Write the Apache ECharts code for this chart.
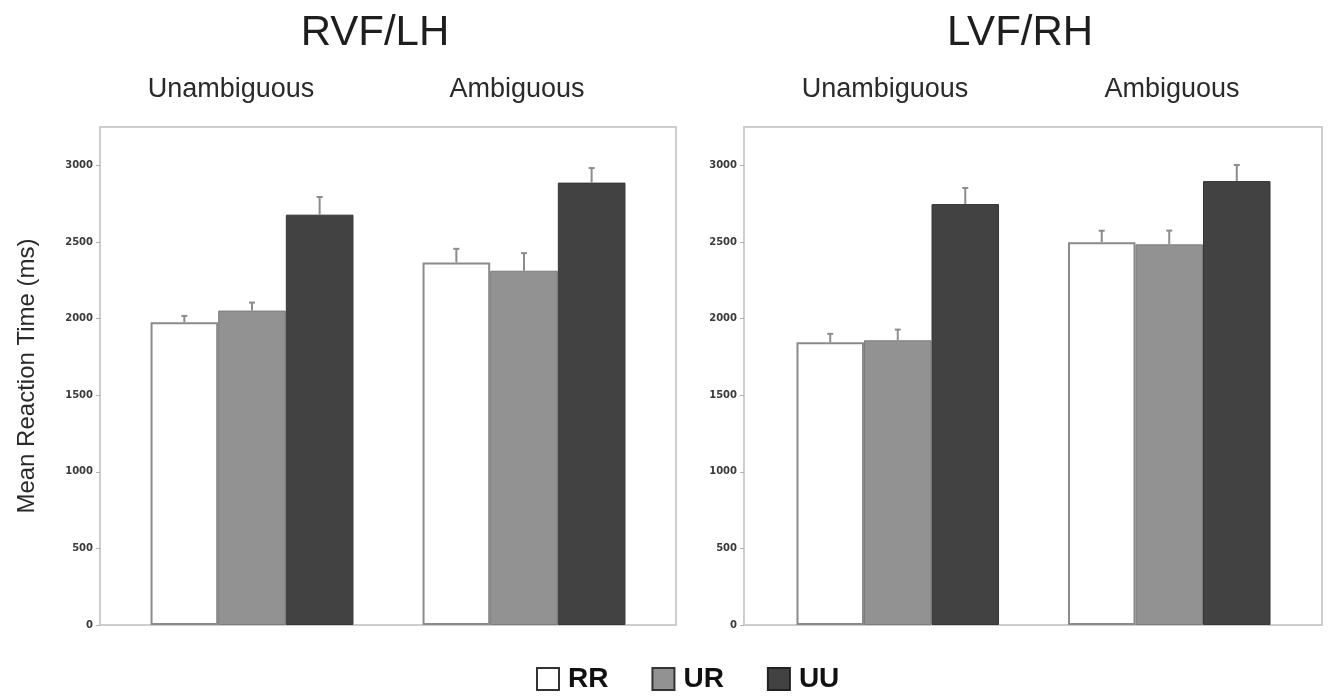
<!DOCTYPE html>
<html>
<head>
<meta charset="utf-8">
<script src="https://cdn.jsdelivr.net/npm/echarts@6/dist/echarts.min.js"></script>
<style>
  html, body { margin: 0; padding: 0; background: #fff; }
  #main { width: 1329px; height: 698px; }
</style>
</head>
<body>
<div id="main"></div>
<script>
// data
var conditions = ['Unambiguous', 'Ambiguous'];
var pairNames = ['RR', 'UR', 'UU'];

var rvfRR = [1975, 2365];
var rvfUR = [2052, 2312];
var rvfUU = [2678, 2887];
var rvfRRErr = [42, 90];
var rvfURErr = [52, 115];
var rvfUUErr = [115, 95];

var lvfRR = [1845, 2498];
var lvfUR = [1858, 2484];
var lvfUU = [2747, 2897];
var lvfRRErr = [55, 75];
var lvfURErr = [70, 90];
var lvfUUErr = [105, 105];

var yMin = 0, yMax = 3250, yStep = 500;

var CAT_GAP = 0.254;
var font = '"Liberation Sans", Arial, sans-serif';

var barStyles = [
    { color: '#ffffff', borderColor: '#8a8a8a', borderWidth: 2 },
    { color: '#929292', borderColor: '#7c7c7c', borderWidth: 1 },
    { color: '#424242', borderColor: '#363636', borderWidth: 1 }
];

function errRows(means, errs) {
    var rows = [];
    for (var s = 0; s < means.length; s++) {
        for (var c = 0; c < means[s].length; c++) {
            rows.push([c, s, means[s][c], errs[s][c]]);
        }
    }
    return rows;
}

function renderErr(params, api) {
    var cat = api.value(0), s = api.value(1);
    var mean = api.value(2), err = api.value(3);
    var base = api.coord([cat, mean]);
    var top = api.coord([cat, mean + err]);
    var barW = api.size([1, 0])[0] * (1 - CAT_GAP) / 3;
    var x = base[0] + (s - 1) * barW;
    var st = { stroke: '#8c8c8c', lineWidth: 2 };
    return {
        type: 'group',
        children: [
            { type: 'line', shape: { x1: x, y1: base[1], x2: x, y2: top[1] }, style: st },
            { type: 'line', shape: { x1: x - 3, y1: top[1], x2: x + 3, y2: top[1] }, style: st }
        ]
    };
}

function valueAxis(gridIndex, offset, withName) {
    return {
        gridIndex: gridIndex,
        type: 'value',
        min: yMin,
        max: yMax,
        interval: yStep,
        offset: offset,
        name: withName ? 'Mean Reaction Time (ms)' : '',
        nameLocation: 'middle',
        nameGap: 61,
        nameTextStyle: { fontFamily: font, fontSize: 24, color: '#2a2a2a' },
        axisLine: { show: false },
        axisTick: { show: true, length: 4, lineStyle: { color: '#b0b0b0' } },
        splitLine: { show: false },
        axisLabel: {
            showMaxLabel: false,
            margin: 7,
            formatter: function (v) { return String(v); },
            fontFamily: '"DejaVu Sans", sans-serif',
            fontWeight: 'bold',
            fontSize: 10,
            color: '#3a3a3a'
        }
    };
}

function catAxis(gridIndex) {
    return {
        gridIndex: gridIndex,
        type: 'category',
        data: conditions,
        axisLine: { show: false },
        axisTick: { show: false },
        axisLabel: { show: false }
    };
}

function barSeries(axisIndex, values) {
    return values.map(function (v, i) {
        return {
            name: pairNames[i],
            type: 'bar',
            xAxisIndex: axisIndex,
            yAxisIndex: axisIndex,
            data: v,
            barGap: '0%',
            barCategoryGap: (CAT_GAP * 100) + '%',
            itemStyle: barStyles[i],
            emphasis: { disabled: true }
        };
    });
}

var myChart = echarts.init(document.getElementById('main'));

var option = {
    backgroundColor: '#fff',
    animation: false,
    grid: [
        { left: 100, top: 127, width: 576, height: 498, show: true, borderColor: '#cdcdcd', borderWidth: 2, backgroundColor: 'transparent' },
        { left: 116, top: 127, width: 544, height: 498 },
        { left: 744, top: 127, width: 578, height: 498, show: true, borderColor: '#cdcdcd', borderWidth: 2, backgroundColor: 'transparent' },
        { left: 762, top: 127, width: 543, height: 498 }
    ],
    xAxis: [
        { gridIndex: 0, type: 'value', show: false },
        catAxis(1),
        { gridIndex: 2, type: 'value', show: false },
        catAxis(3)
    ],
    yAxis: [
        { gridIndex: 0, type: 'value', show: false },
        valueAxis(1, 16, true),
        { gridIndex: 2, type: 'value', show: false },
        valueAxis(3, 18, false)
    ],
    legend: {
        left: 531,
        top: 660,
        itemWidth: 22,
        itemHeight: 22,
        itemGap: 43,
        textStyle: { fontFamily: font, fontSize: 28, fontWeight: 'bold', color: '#111', padding: [0, 0, 0, 4] },
        data: [
            { name: 'RR', icon: 'rect', itemStyle: { color: '#fff', borderColor: '#333', borderWidth: 2 } },
            { name: 'UR', icon: 'rect', itemStyle: { color: '#929292', borderColor: '#333', borderWidth: 2 } },
            { name: 'UU', icon: 'rect', itemStyle: { color: '#424242', borderColor: '#222', borderWidth: 2 } }
        ],
        selectedMode: false
    },
    graphic: [
        { type: 'text', x: 375, y: 33, style: { text: 'RVF/LH', font: '42px ' + font, fill: '#1e1e1e', textAlign: 'center', textVerticalAlign: 'middle' } },
        { type: 'text', x: 1020, y: 33, style: { text: 'LVF/RH', font: '42px ' + font, fill: '#1e1e1e', textAlign: 'center', textVerticalAlign: 'middle' } },
        { type: 'text', x: 231, y: 90, style: { text: 'Unambiguous', font: '27px ' + font, fill: '#2a2a2a', textAlign: 'center', textVerticalAlign: 'middle' } },
        { type: 'text', x: 517, y: 90, style: { text: 'Ambiguous', font: '27px ' + font, fill: '#2a2a2a', textAlign: 'center', textVerticalAlign: 'middle' } },
        { type: 'text', x: 885, y: 90, style: { text: 'Unambiguous', font: '27px ' + font, fill: '#2a2a2a', textAlign: 'center', textVerticalAlign: 'middle' } },
        { type: 'text', x: 1172, y: 90, style: { text: 'Ambiguous', font: '27px ' + font, fill: '#2a2a2a', textAlign: 'center', textVerticalAlign: 'middle' } }
    ],
    series: [].concat(
        barSeries(1, [rvfRR, rvfUR, rvfUU]),
        barSeries(3, [lvfRR, lvfUR, lvfUU]),
        [
            {
                type: 'custom',
                xAxisIndex: 1,
                yAxisIndex: 1,
                renderItem: renderErr,
                encode: { x: 0, y: 2 },
                data: errRows([rvfRR, rvfUR, rvfUU], [rvfRRErr, rvfURErr, rvfUUErr]),
                z: 5,
                silent: true
            },
            {
                type: 'custom',
                xAxisIndex: 3,
                yAxisIndex: 3,
                renderItem: renderErr,
                encode: { x: 0, y: 2 },
                data: errRows([lvfRR, lvfUR, lvfUU], [lvfRRErr, lvfURErr, lvfUUErr]),
                z: 5,
                silent: true
            }
        ]
    )
};

myChart.setOption(option);
window.addEventListener('resize', function () {
    myChart.resize();
});
</script>
</body>
</html>
